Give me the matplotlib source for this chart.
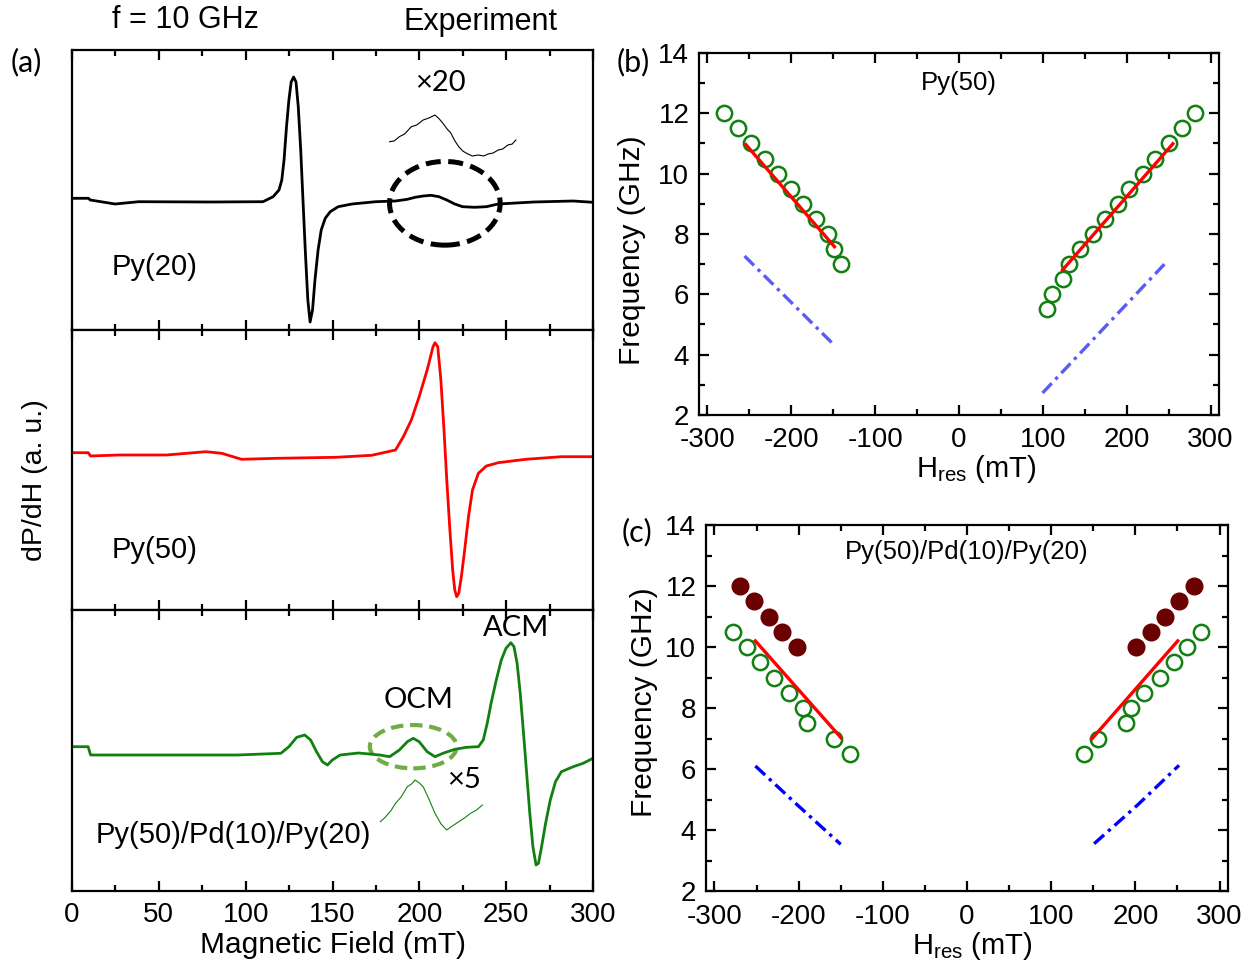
import numpy as np
import matplotlib
matplotlib.use("Agg")
import matplotlib.pyplot as plt
from matplotlib.patches import Ellipse
from matplotlib.ticker import MultipleLocator

plt.rcParams['font.family'] = ['Liberation Sans', 'DejaVu Sans']
plt.rcParams['mathtext.fontset'] = 'custom'
plt.rcParams['mathtext.rm'] = 'Liberation Sans'
plt.rcParams['mathtext.it'] = 'Liberation Sans:italic'

# ---------------------------------------------------------------------------
# Data (a): FMR derivative spectra at 10 GHz, arbitrary units
# ---------------------------------------------------------------------------
py20_H = [0, 9.5, 10.5, 24.8, 38.4, 80, 110, 115.8, 119.2, 120.8, 122.1, 123.5,
          124.9, 126.2, 127.6, 129, 130.3, 131.7, 133, 134.4, 135.8, 137.1, 138.5,
          139.9, 141.7, 143.5, 145.8, 148.7, 153.3, 161.2, 174.9, 186.3, 193.1,
          197.6, 202.2, 206.7, 211.3, 215.8, 220.4, 224.9, 231.7, 238.6, 245.4,
          265.9, 288.6, 300]
py20_S = [0.17, 0.17, 0.0, -0.4, -0.17, -0.2, -0.17, 0.33, 1.0, 2.0, 4.0, 7.3,
          10.0, 11.8, 12.3, 11.8, 9.3, 5.0, 0.0, -5.3, -10.0, -12.2, -11.0,
          -8.0, -5.0, -3.0, -1.83, -1.17, -0.67, -0.4, -0.17, -0.1, 0.07,
          0.27, 0.4, 0.47, 0.33, 0.0, -0.4, -0.67, -0.73, -0.67, -0.4,
          -0.2, -0.1, -0.23]

py20_x20_H = [182.9, 185.5, 188.5, 191.5, 195.4, 198.5, 202.2, 205.5, 209, 211.5,
              213.6, 216, 218.1, 220.5, 222.7, 225, 227.2, 230.5, 234, 237,
              239.7, 242.5, 245.4, 248, 251, 253.5, 255.6]
py20_x20_S = [5.83, 5.9, 6.33, 6.6, 7.33, 7.5, 8.0, 8.2, 8.5, 8.1, 7.67, 7.1, 6.7,
              5.9, 5.33, 4.9, 4.67, 4.4, 4.5, 4.4, 4.6, 4.7, 5.0, 5.1, 5.5, 5.6, 6.0]

py50_H = [0, 9.3, 10.7, 27, 54.4, 77.1, 86.2, 97.6, 118, 152, 172.6, 186.3, 190.8,
          195.4, 199.9, 204.5, 207.9, 209, 210.6, 212.4, 214.2, 215.8, 217.6,
          219.2, 220.4, 221.5, 222.7, 224.2, 226.1, 228.3, 230.6, 234, 238.6,
          245.4, 261.3, 281.8, 300]
py50_S = [0.23, 0.23, -0.1, 0.0, 0.0, 0.33, 0.17, -0.43, -0.33, -0.23, -0.03, 0.5,
          1.83, 3.5, 5.83, 8.5, 10.83, 11.23, 10.83, 7.5, 2.5, -2.5, -7.5,
          -11.5, -13.5, -14.17, -13.83, -12.17, -9.5, -6.17, -3.5, -1.83, -1.1,
          -0.77, -0.43, -0.17, -0.17]

tri_H = [0, 9.3, 10.7, 49.8, 95.3, 120.3, 124.9, 129.4, 134, 137.4, 140.8, 144.2,
         147.1, 149.9, 154.4, 165, 177.2, 182.9, 188.5, 193.1, 196.5, 199.9, 204.5,
         209, 213.6, 220.4, 227.2, 234, 236.8, 239.1, 241.3, 244.3, 247.2, 249.9,
         252.7, 254.5, 256.3, 258.1, 260, 261.8, 263.6, 265.4, 267.2, 268.6,
         270.4, 272.7, 275.4, 278.4, 281.8, 288.6, 294.3, 300]
tri_S = [0.83, 0.83, 0.0, 0.0, 0.0, 0.17, 0.83, 1.77, 2.0, 1.5, 0.33, -0.67,
         -1.0, -0.5, 0.0, 0.2, 0.0, -0.17, 0.5, 1.33, 1.67, 1.33, 0.33,
         -0.17, 0.17, 0.57, 0.77, 0.83, 1.5, 3.17, 5.17, 7.5, 9.5, 10.67,
         11.23, 10.83, 9.17, 6.17, 2.17, -1.83, -5.83, -9.17, -11.0, -10.83,
         -9.17, -6.83, -4.5, -2.67, -1.67, -1.17, -0.83, -0.33]

tri_x5_H = [177.6, 180.5, 183.5, 186.3, 189.5, 193.1, 195.5, 197.6, 200, 202.2,
            205.5, 209, 212.5, 215.8, 219, 222.7, 226, 229.5, 233, 236.3]
tri_x5_S = [-6.67, -6.2, -5.6, -4.83, -4.2, -3.17, -2.9, -2.5, -2.8, -3.17,
            -4.4, -5.83, -6.9, -7.5, -7.1, -6.67, -6.3, -5.83, -5.5, -5.0]

# ---------------------------------------------------------------------------
# Data (b): Py(50) dispersion
# ---------------------------------------------------------------------------
b_left_H = [-280.6, -263.6, -247.7, -231.7, -216.3, -200.8, -185.9, -171, -156.5,
            -148.5, -140.6]
b_left_f = [12, 11.5, 11, 10.5, 10, 9.5, 9, 8.5, 8, 7.5, 7]
b_right_H = [104.6, 111, 123.5, 131.5, 144.4, 159.4, 174.3, 189.3, 203.2, 219.2,
             234, 250, 265.5, 281.5]
b_right_f = [5.5, 6, 6.5, 7, 7.5, 8, 8.5, 9, 9.5, 10, 10.5, 11, 11.5, 12]
b_fit_left_H = [-254, -148.5]
b_fit_left_f = [10.96, 7.58]
b_fit_right_H = [123.5, 255]
b_fit_right_f = [6.81, 10.99]
b_calc_left_H = [-255.7, -148.5]
b_calc_left_f = [7.27, 4.31]
b_calc_right_H = [99.6, 249]
b_calc_right_f = [2.73, 7.12]

# ---------------------------------------------------------------------------
# Data (c): Py(50)/Pd(10)/Py(20) dispersion
# ---------------------------------------------------------------------------
c_acm_left_H = [-269.3, -252.9, -235.5, -219.7, -201.8]
c_acm_left_f = [12, 11.5, 11, 10.5, 10]
c_acm_right_H = [200.7, 218.1, 235, 251.8, 270.1]
c_acm_right_f = [10, 10.5, 11, 11.5, 12]
c_ocm_left_H = [-277.7, -261.3, -245.5, -229.6, -211.8, -194.4, -190, -157.7, -138.9]
c_ocm_left_f = [10.5, 10, 9.5, 9, 8.5, 8, 7.5, 7, 6.5]
c_ocm_right_H = [138.8, 156.1, 189.3, 194.3, 210.7, 229, 245.4, 261.7, 277.6]
c_ocm_right_f = [6.5, 7, 7.5, 8, 8.5, 9, 9.5, 10, 10.5]
c_fit_left_H = [-251.4, -149.8]
c_fit_left_f = [10.2, 7.03]
c_fit_right_H = [148.7, 250.3]
c_fit_right_f = [7.0, 10.2]
c_calc_left_H = [-251.4, -203, -150]
c_calc_left_f = [6.1, 4.86, 3.53]
c_calc_right_H = [151, 203, 251.8]
c_calc_right_f = [3.55, 4.83, 6.12]

# ---------------------------------------------------------------------------
# Layout helpers (figure pixels -> fractions)
# ---------------------------------------------------------------------------
W, H = 1254, 968
fig = plt.figure(figsize=(W / 100, H / 100), dpi=100)


def box(l, t, r, b):
    return [l / W, 1 - b / H, (r - l) / W, (b - t) / H]


def ftext(x, y, s, **kw):
    fig.text(x / W, 1 - y / H, s, **kw)


def style_axes(ax, fs):
    for sp in ax.spines.values():
        sp.set_linewidth(1.6)
    ax.tick_params(which='both', direction='in', top=True, right=True,
                   width=1.6, labelsize=fs)
    ax.tick_params(which='major', length=7)
    ax.tick_params(which='minor', length=4)


# ---------------------------------------------------------------------------
# Panel (a)
# ---------------------------------------------------------------------------
rows = [(50, 330, (-13, 15)), (330, 610, (-15.5, 12.5)), (610, 891, (-13.6, 14.5))]
axes_a = []
for top, bot, ylim in rows:
    ax = fig.add_axes(box(72, top, 593, bot))
    style_axes(ax, 20)
    ax.set_xlim(0, 300)
    ax.set_ylim(*ylim)
    ax.xaxis.set_major_locator(MultipleLocator(50))
    ax.xaxis.set_minor_locator(MultipleLocator(25))
    ax.set_yticks([])
    ax.tick_params(axis='x', labelbottom=False)
    axes_a.append(ax)

a1, a2, a3 = axes_a
a3.tick_params(axis='x', labelbottom=True, pad=8)

a1.plot(py20_H, py20_S, color='black', lw=2.0)
a1.plot(py20_x20_H, py20_x20_S, color='black', lw=0.8)
a1.add_patch(Ellipse((214.7, -0.33), 63.7, 8.37, fill=False, edgecolor='black',
                     lw=3.6, linestyle=(0, (3.0, 1.5))))
a1.text(212.4, 11.7, '×20', fontsize=21, family='Lato', ha='center', va='center')
a1.text(23, -6.7, 'Py(20)', fontsize=21, ha='left', va='center')

a2.plot(py50_H, py50_S, color='red', lw=2.0)
a2.text(23, -9.5, 'Py(50)', fontsize=21, ha='left', va='center')

a3.plot(tri_H, tri_S, color='#118011', lw=2.0)
a3.plot(tri_x5_H, tri_x5_S, color='#118011', lw=0.8)
a3.add_patch(Ellipse((196.5, 0.83), 50, 4.33, fill=False, edgecolor='#70AD47',
                     lw=3.0, linestyle=(0, (3.0, 1.6))))
a3.text(199.5, 5.5, 'OCM', fontsize=21, family='Lato', ha='center', va='center')
a3.text(255.6, 12.67, 'ACM', fontsize=21, family='Lato', ha='center', va='center')
a3.text(226, -2.5, '×5', fontsize=21, family='Lato', ha='center', va='center')
a3.text(13.4, -8.0, 'Py(50)/Pd(10)/Py(20)', fontsize=21, ha='left', va='center')
a3.set_xlabel('Magnetic Field (mT)', fontsize=21.5, labelpad=2)

ftext(35, 480, 'dP/dH (a. u.)', fontsize=20.5, rotation=90, ha='center', va='center')
ftext(26, 62, '(a)', fontsize=22, family='Lato', ha='center', va='center')
ftext(185, 20, 'f = 10 GHz', fontsize=22, ha='center', va='center')
ftext(480, 22, 'Experiment', fontsize=22, ha='center', va='center')


# ---------------------------------------------------------------------------
# Panels (b) and (c)
# ---------------------------------------------------------------------------
def disp_axes(rect):
    ax = fig.add_axes(rect)
    style_axes(ax, 20)
    ax.set_xlim(-310, 310)
    ax.set_ylim(2, 14)
    ax.xaxis.set_major_locator(MultipleLocator(100))
    ax.xaxis.set_minor_locator(MultipleLocator(50))
    ax.yaxis.set_major_locator(MultipleLocator(2))
    ax.yaxis.set_minor_locator(MultipleLocator(1))
    ax.tick_params(axis='x', pad=9)
    ax.tick_params(axis='y', pad=7)
    ax.set_xticks([-300, -200, -100, 0, 100, 200, 300])
    ax.set_xticklabels(['-300', '-200', '-100', '0', '100', '200', '300'])
    return ax


open_kw = dict(ls='none', marker='o', ms=11, mfc='none', mec='#118011', mew=1.8)
fill_kw = dict(ls='none', marker='o', ms=12, mfc='#6B0000', mec='#6B0000')
dashdot = (0, (4, 1.6, 1, 1.6))

bx = disp_axes(box(699, 53, 1219, 415))
bx.plot(b_left_H, b_left_f, **open_kw)
bx.plot(b_right_H, b_right_f, **open_kw)
bx.plot(b_fit_left_H, b_fit_left_f, color='red', lw=2.4)
bx.plot(b_fit_right_H, b_fit_right_f, color='red', lw=2.4)
bx.plot(b_calc_left_H, b_calc_left_f, color='#5B5BF5', lw=2.4, linestyle=dashdot)
bx.plot(b_calc_right_H, b_calc_right_f, color='#5B5BF5', lw=2.4, linestyle=dashdot)
bx.text(0, 13.0, 'Py(50)', fontsize=18.5, ha='center', va='center')

cx = disp_axes(box(706, 525, 1228, 891))
cx.plot(c_ocm_left_H, c_ocm_left_f, **open_kw)
cx.plot(c_ocm_right_H, c_ocm_right_f, **open_kw)
cx.plot(c_acm_left_H, c_acm_left_f, **fill_kw)
cx.plot(c_acm_right_H, c_acm_right_f, **fill_kw)
cx.plot(c_fit_left_H, c_fit_left_f, color='red', lw=2.4)
cx.plot(c_fit_right_H, c_fit_right_f, color='red', lw=2.4)
cx.plot(c_calc_left_H, c_calc_left_f, color='blue', lw=2.4, linestyle=dashdot)
cx.plot(c_calc_right_H, c_calc_right_f, color='blue', lw=2.4, linestyle=dashdot)
cx.text(0, 13.1, 'Py(50)/Pd(10)/Py(20)', fontsize=18.5, ha='center', va='center')

ftext(632, 250, 'Frequency (GHz)', fontsize=21.5, rotation=90, ha='center', va='center')
ftext(644, 702, 'Frequency (GHz)', fontsize=21.5, rotation=90, ha='center', va='center')
ftext(976, 469, r'H$_{\rm res}$ (mT)', fontsize=21, ha='center', va='center')
ftext(972, 946, r'H$_{\rm res}$ (mT)', fontsize=21, ha='center', va='center')
ftext(633, 62, '(b)', fontsize=22, family='Lato', ha='center', va='center')
ftext(637, 532, '(c)', fontsize=22, family='Lato', ha='center', va='center')

fig.savefig('out.png', dpi=100)
